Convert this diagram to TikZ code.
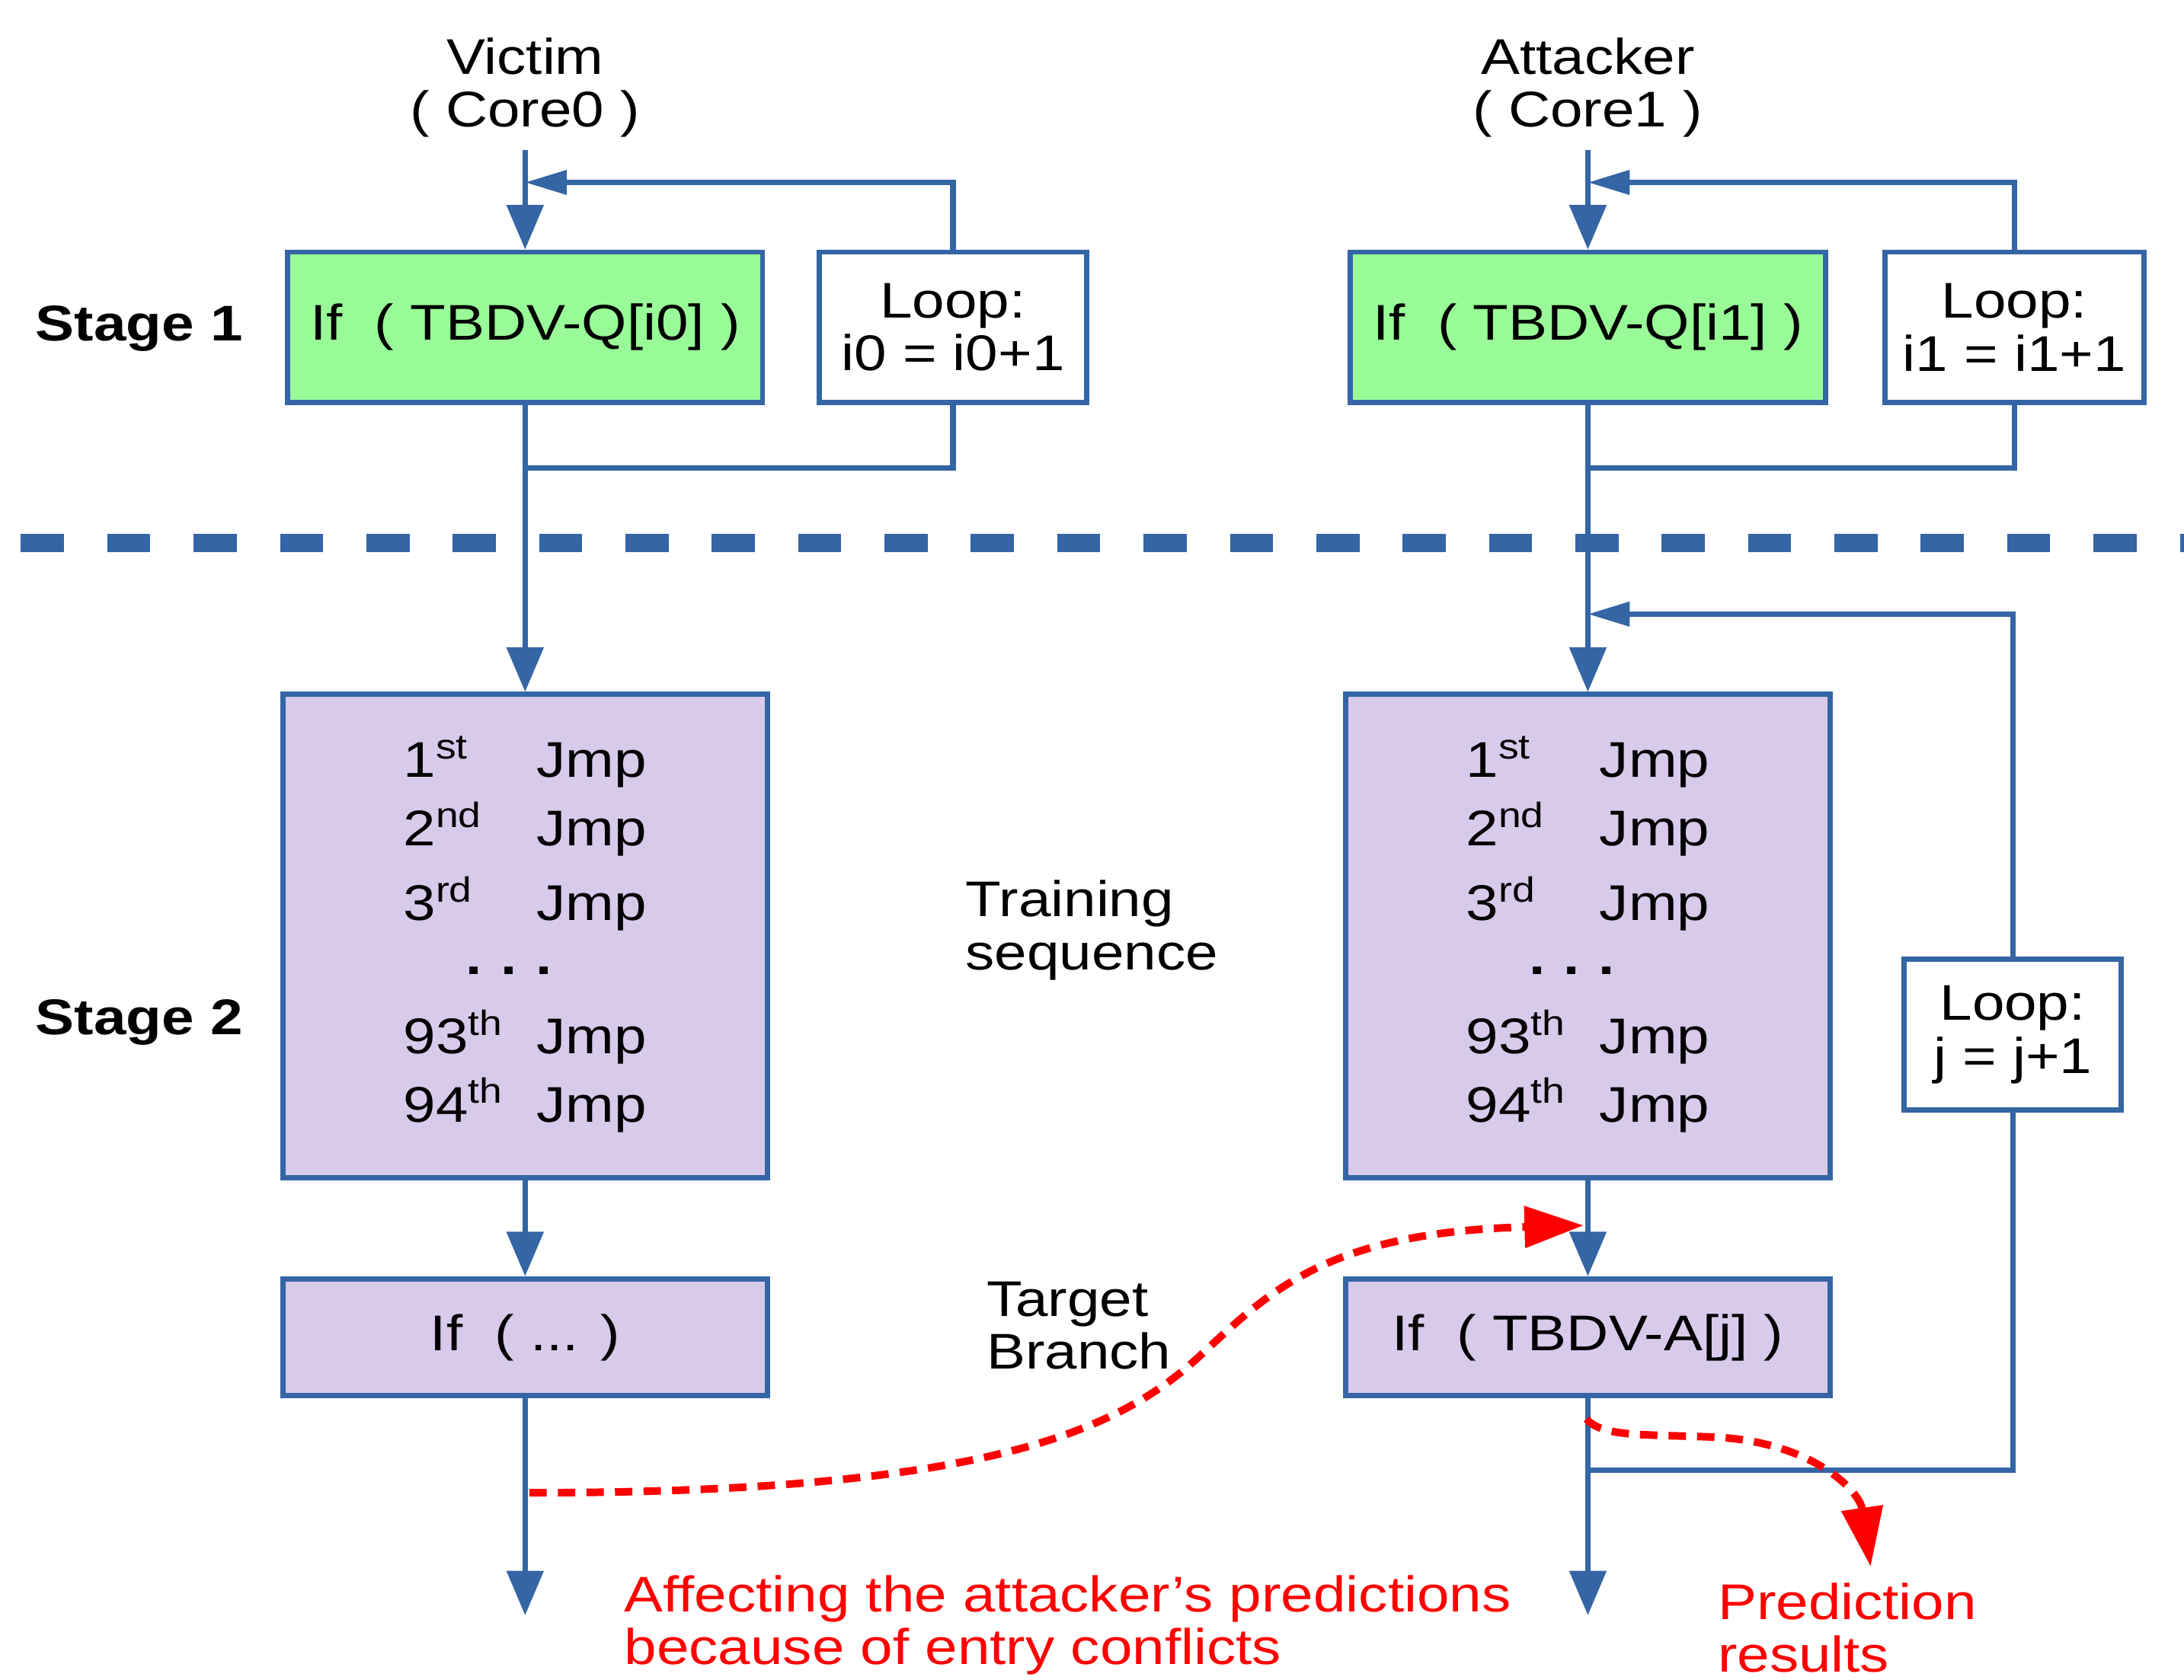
\documentclass[tikz,border=0pt]{standalone}
\usepackage{fontspec}
\setmainfont{Liberation Sans}[FakeStretch=1.16]
\usetikzlibrary{arrows.meta,positioning,calc}
\definecolor{flowblue}{RGB}{52,101,164}
\definecolor{palegreen}{RGB}{153,250,152}
\definecolor{lavender}{RGB}{216,202,235}
\definecolor{hitred}{RGB}{255,0,0}

\begin{document}
\begin{tikzpicture}[
  every node/.style={font=\fontsize{20.5}{21.6}\selectfont, align=center, inner sep=0pt},
  box/.style={draw=flowblue, line width=2.1pt},
  flow/.style={draw=flowblue, line width=2.2pt, -{Triangle[length=0.64cm,width=0.52cm]}},
  back/.style={draw=flowblue, line width=2.2pt, -{Triangle[length=0.6cm,width=0.34cm]}},
  wire/.style={draw=flowblue, line width=2.2pt},
  hit/.style={draw=hitred, line width=3.1pt, dash pattern=on 0.25cm off 0.16cm, -{Triangle[length=0.85cm,width=0.58cm]}}
]
\useasboundingbox (0,0) rectangle (31.36,-24.12);

% column headers
\node (vic) at (7.54,-1.26) {Victim\\( Core0 )};
\node (att) at (22.8,-1.26) {Attacker\\( Core1 )};

% stage labels
\node[font=\fontsize{20.5}{24}\selectfont\bfseries] (s1) at (2.0,-4.72) {Stage 1};
\node[font=\fontsize{20.5}{24}\selectfont\bfseries] (s2) at (2.0,-14.68) {Stage 2};

% stage 1
\node[box, fill=palegreen, minimum width=6.82cm, minimum height=2.16cm] (v1) at (7.54,-4.7) {If\ \ ( TBDV-Q[i0] )};
\node[box, fill=white, minimum width=3.84cm, minimum height=2.16cm, right=0.74cm of v1] (vloop) {Loop:\\i0 = i0+1};
\node[box, fill=palegreen, minimum width=6.82cm, minimum height=2.16cm] (a1) at (22.8,-4.7) {If\ \ ( TBDV-Q[i1] )};
\node[box, fill=white, minimum width=3.72cm, minimum height=2.16cm, right=0.78cm of a1] (aloop) {Loop:\\i1 = i1+1};

% stage 2
\node[box, fill=lavender, minimum width=6.96cm, minimum height=6.94cm, below=4.12cm of v1,
  font=\fontsize{20.5}{27.8}\selectfont] (v2) {%
  \begin{tabular}{@{}l@{\hspace{0.48cm}}l@{}}
  1\textsuperscript{st} & Jmp\\
  2\textsuperscript{nd} & Jmp\\[0.1cm]
  3\textsuperscript{rd} & Jmp\\[-0.2cm]
  \multicolumn{2}{@{}l@{}}{\hspace*{0.9cm}\textbf{.\hspace{0.27cm}.\hspace{0.27cm}.}}\\[0.16cm]
  93\textsuperscript{th} & Jmp\\
  94\textsuperscript{th} & Jmp
  \end{tabular}};
\node[box, fill=lavender, minimum width=6.96cm, minimum height=6.94cm, below=4.12cm of a1,
  font=\fontsize{20.5}{27.8}\selectfont] (a2) {%
  \begin{tabular}{@{}l@{\hspace{0.48cm}}l@{}}
  1\textsuperscript{st} & Jmp\\
  2\textsuperscript{nd} & Jmp\\[0.1cm]
  3\textsuperscript{rd} & Jmp\\[-0.2cm]
  \multicolumn{2}{@{}l@{}}{\hspace*{0.9cm}\textbf{.\hspace{0.27cm}.\hspace{0.27cm}.}}\\[0.16cm]
  93\textsuperscript{th} & Jmp\\
  94\textsuperscript{th} & Jmp
  \end{tabular}};
\node[box, fill=white, minimum width=3.12cm, minimum height=2.16cm] (jloop) at (28.9,-14.86) {Loop:\\j = j+1};

\node[box, fill=lavender, minimum width=6.96cm, minimum height=1.68cm, below=1.38cm of v2] (v3) {If\ \ ( ... )};
\node[box, fill=lavender, minimum width=6.96cm, minimum height=1.68cm, below=1.38cm of a2] (a3) {If\ \ ( TBDV-A[j] )};

% side labels
\node[anchor=west, align=left] (train) at (13.86,-13.36) {Training\\sequence};
\node[anchor=west, align=left] (target) at (14.16,-19.04) {Target\\Branch};
\node[anchor=west, align=left, text=hitred] (affect) at (8.96,-23.34) {Affecting the attacker’s predictions\\because of entry conflicts};
\node[anchor=west, align=left, text=hitred] (result) at (24.66,-23.38) {Prediction\\results};

% free ends and joins
\coordinate (vtop) at (7.54,-2.16);
\coordinate (atop) at (22.8,-2.16);
\coordinate (vjoin) at (7.54,-2.62);
\coordinate (ajoin) at (22.8,-2.62);
\coordinate (vback) at (7.54,-6.72);
\coordinate (aback) at (22.8,-6.72);
\coordinate (jjoin) at (22.8,-8.82);
\coordinate (jback) at (22.8,-21.12);
\coordinate (vend) at (7.54,-23.2);
\coordinate (aend) at (22.8,-23.2);

% stage separator
\draw[flowblue, line width=7.4pt, dash pattern=on 0.62cm off 0.62cm] (0.3,-7.8) -- (31.36,-7.8);

% victim flow
\draw[flow] (vtop) -- (v1);
\draw[back] (vloop.north) |- (vjoin);
\draw[wire] (vloop.south) |- (vback);
\draw[flow] (v1) -- (v2);
\draw[flow] (v2) -- (v3);
\draw[flow] (v3) -- (vend);

% attacker flow
\draw[flow] (atop) -- (a1);
\draw[back] (aloop.north) |- (ajoin);
\draw[wire] (aloop.south) |- (aback);
\draw[flow] (a1) -- (a2);
\draw[back] (jloop.north) |- (jjoin);
\draw[wire] (jloop.south) |- (jback);
\draw[flow] (a2) -- (a3);
\draw[flow] (a3) -- (aend);

% entry conflict
\coordinate (vhit) at (7.6,-21.44);
\coordinate (ahit) at (22.74,-17.6);
\draw[hit] (vhit) .. controls (14.0,-21.44) and (16.0,-20.6) .. (17.2,-19.5)
  .. controls (18.2,-18.58) and (19.0,-17.7) .. (ahit);
\coordinate (abr) at (22.78,-20.38);
\coordinate (pred) at (26.86,-22.5);
\draw[hit] (abr) .. controls (23.0,-20.64) and (23.6,-20.6) .. (24.6,-20.64)
  .. controls (26.0,-20.7) and (26.7,-21.4) .. (pred);
\end{tikzpicture}
\end{document}
